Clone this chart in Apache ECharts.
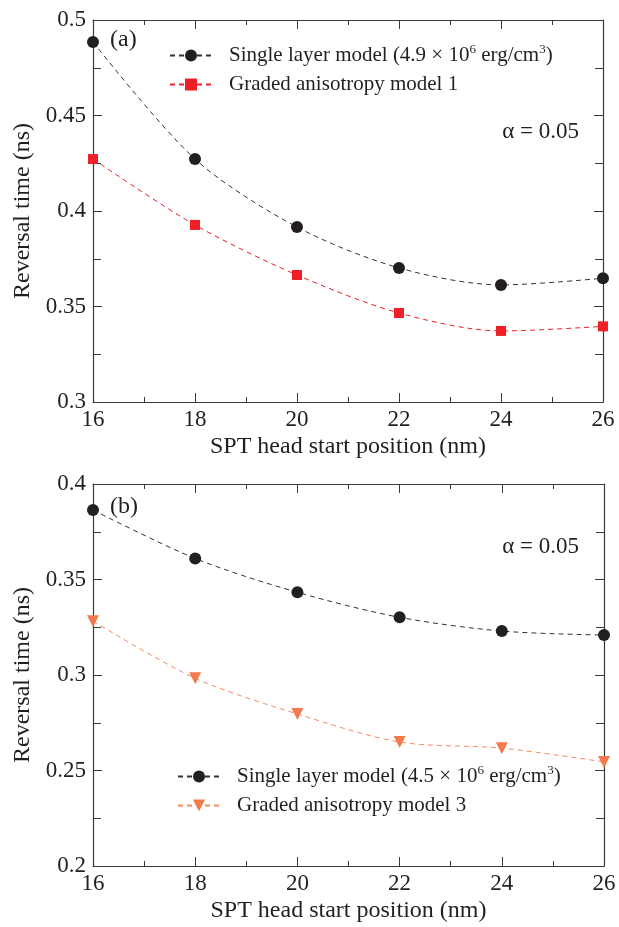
<!DOCTYPE html>
<html>
<head>
<meta charset="utf-8">
<script src="https://cdn.jsdelivr.net/npm/echarts@6/dist/echarts.min.js"></script>
<style>
  html, body { margin: 0; padding: 0; background: #fff; }
  #chart { width: 619px; height: 927px; }
</style>
</head>
<body>
<div id="chart"></div>
<script>
// x positions (nm)
var positions = [16, 18, 20, 22, 24, 26];

// panel (a)
var singleA = [0.4885, 0.4272, 0.3916, 0.3702, 0.3613, 0.3648];
var gradedA = [0.4272, 0.3927, 0.3665, 0.3466, 0.3372, 0.3396];
// panel (b)
var singleB = [0.3864, 0.3610, 0.3433, 0.3302, 0.3230, 0.3209];
var gradedB = [0.3282, 0.2983, 0.2796, 0.2649, 0.2617, 0.2545];

var nameSingleA = 'Single layer model (4.9 × 10^6 erg/cm^3)';
var nameGradedA = 'Graded anisotropy model 1';
var nameSingleB = 'Single layer model (4.5 × 10^6 erg/cm^3)';
var nameGradedB = 'Graded anisotropy model 3';

var FONT = '"Liberation Serif", "DejaVu Serif", serif';
var TXT = '#231f20';
var AXIS = '#3a3a3a';

function pairs(ys) {
  return positions.map(function (x, i) { return [x, ys[i]]; });
}

function xAxes(grid) {
  var common = {
    type: 'value', gridIndex: grid, min: 16, max: 26, interval: 2,
    axisLine: { show: true, lineStyle: { color: AXIS, width: 1.2 } },
    axisTick: { show: true, inside: true, length: 9, lineStyle: { color: AXIS } },
    minorTick: { show: true, splitNumber: 2, length: 5, lineStyle: { color: AXIS } },
    splitLine: { show: false }
  };
  return [
    Object.assign({}, common, {
      position: 'bottom',
      name: 'SPT head start position (nm)', nameLocation: 'middle', nameGap: 33,
      nameTextStyle: { fontFamily: FONT, fontSize: 24, color: TXT },
      axisLabel: { fontFamily: FONT, fontSize: 23, color: TXT, margin: 6 }
    }),
    Object.assign({}, common, { position: 'top', axisLabel: { show: false } })
  ];
}

function yAxes(grid, min, max) {
  var common = {
    type: 'value', gridIndex: grid, min: min, max: max, interval: 0.05,
    axisLine: { show: true, lineStyle: { color: AXIS, width: 1.2 } },
    axisTick: { show: true, inside: true, length: 9, lineStyle: { color: AXIS } },
    minorTick: { show: true, splitNumber: 2, length: 8, lineStyle: { color: AXIS } },
    splitLine: { show: false }
  };
  return [
    Object.assign({}, common, {
      position: 'left',
      name: 'Reversal time (ns)', nameLocation: 'middle', nameGap: 58,
      nameTextStyle: { fontFamily: FONT, fontSize: 24, color: TXT },
      axisLabel: { fontFamily: FONT, fontSize: 23, color: TXT, margin: 7 }
    }),
    Object.assign({}, common, { position: 'right', axisLabel: { show: false } })
  ];
}

function lineSeries(name, data, xi, yi, symbol, size, color, lineColor, rotate) {
  return {
    name: name, type: 'line', xAxisIndex: xi, yAxisIndex: yi,
    data: pairs(data), smooth: 0.3,
    symbol: symbol, symbolSize: size, symbolRotate: rotate || 0,
    itemStyle: { color: color },
    lineStyle: { color: lineColor, width: 1, type: [5, 4] },
    z: 3
  };
}

var legendText = {
  fontFamily: FONT, fontSize: 21, color: TXT, padding: [0, 0, 0, 12],
  rich: { sup: { fontFamily: FONT, fontSize: 13, color: TXT, verticalAlign: 'top', padding: [0, 0, 12, 0] } }
};
function legendFormatter(name) {
  return name.replace('10^6', '10{sup|6}').replace('cm^3', 'cm{sup|3}');
}

var chart = echarts.init(document.getElementById('chart'));
chart.setOption({
  animation: false,
  backgroundColor: '#fff',
  grid: [
    { left: 93, top: 20, width: 510, height: 382 },
    { left: 93, top: 484, width: 511, height: 382 }
  ],
  xAxis: xAxes(0).concat(xAxes(1)),
  yAxis: yAxes(0, 0.3, 0.5).concat(yAxes(1, 0.2, 0.4)),
  legend: [
    {
      data: [nameSingleA, nameGradedA], orient: 'vertical',
      left: 164, top: 38, itemWidth: 42, itemHeight: 15, itemGap: 8,
      textStyle: legendText, formatter: legendFormatter
    },
    {
      data: [nameSingleB, nameGradedB], orient: 'vertical',
      left: 172, top: 759, itemWidth: 42, itemHeight: 15, itemGap: 8,
      textStyle: legendText, formatter: legendFormatter
    }
  ],
  graphic: [
    { type: 'text', left: 110, top: 28, style: { text: '(a)', font: '24px ' + FONT, fill: TXT } },
    { type: 'text', left: 110, top: 495, style: { text: '(b)', font: '24px ' + FONT, fill: TXT } },
    { type: 'text', right: 40, top: 120, style: { text: 'α = 0.05', font: '23px ' + FONT, fill: TXT } },
    { type: 'text', right: 40, top: 535, style: { text: 'α = 0.05', font: '23px ' + FONT, fill: TXT } }
  ],
  series: [
    lineSeries(nameSingleA, singleA, 0, 0, 'circle', 12, '#231f20', '#333333'),
    lineSeries(nameGradedA, gradedA, 0, 0, 'rect', 10, '#ed2027', '#ed2027'),
    lineSeries(nameSingleB, singleB, 2, 2, 'circle', 12, '#231f20', '#333333'),
    lineSeries(nameGradedB, gradedB, 2, 2, 'triangle', 12, '#f47a4c', '#f58a62', 180)
  ]
});
</script>
</body>
</html>
